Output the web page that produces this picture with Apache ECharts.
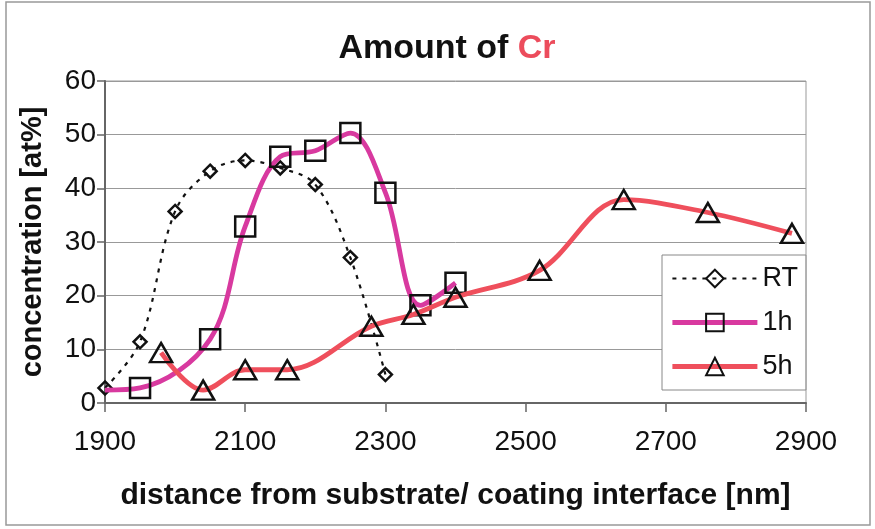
<!DOCTYPE html>
<html><head><meta charset="utf-8">
<script src="https://cdn.jsdelivr.net/npm/echarts@6/dist/echarts.min.js"></script>
<style>html,body{margin:0;padding:0;background:#fff}#c{width:875px;height:529px}</style>
</head><body><div id="c"></div>
<script>
const xTicks = [1900, 2100, 2300, 2500, 2700, 2900];
const yTicks = [0, 10, 20, 30, 40, 50, 60];
const rtX = [1900, 1950, 2000, 2050, 2100, 2150, 2200, 2250, 2300];
const rtY = [2.8, 11.4, 35.7, 43.2, 45.2, 43.8, 40.7, 27.1, 5.3];
const h1X = [1900, 1950, 2050, 2100, 2150, 2200, 2250, 2300, 2350, 2400];
const h1Y = [2.4, 2.8, 11.9, 32.9, 45.9, 47.0, 50.3, 39.2, 18.2, 22.4];
const h1Marker = [false, true, true, true, true, true, true, true, true, true];
const h5X = [1980, 2040, 2100, 2160, 2280, 2340, 2400, 2520, 2640, 2760, 2880];
const h5Y = [9.4, 2.4, 6.2, 6.2, 14.3, 16.5, 19.7, 24.7, 37.9, 35.5, 31.6];
const seriesNames = ['RT', '1h', '5h'];

const chart = echarts.init(document.getElementById('c'));
const pts = (xs, ys) => xs.map((x, i) => [x, ys[i]]);
const h1Data = h1X.map((x, i) => h1Marker[i] ? [x, h1Y[i]] : {value: [x, h1Y[i]], symbol: 'none'});
const markerStyle = {color: 'rgba(0,0,0,0)', borderColor: '#111', borderWidth: 2.5};
const FF = 'Liberation Sans, Arial';

chart.setOption({
  animation: false,
  backgroundColor: '#fff',
  title: {
    text: '{a|Amount of }{b|Cr}',
    left: 442, top: 27, textAlign: 'center',
    textStyle: {
      rich: {
        a: {fontFamily: FF, fontWeight: 'bold', fontSize: 34, color: '#111'},
        b: {fontFamily: FF, fontWeight: 'bold', fontSize: 34, color: '#ec4c5c'}
      }
    }
  },
  graphic: [{
    type: 'rect', shape: {x: 6, y: 2, width: 864, height: 523},
    style: {fill: 'none', stroke: '#999', lineWidth: 1.5}, silent: true, z: -1
  }],
  grid: {left: 105, right: 69, top: 81, bottom: 126, show: true, borderColor: '#999', borderWidth: 1},
  legend: {
    orient: 'vertical', left: 662, top: 255, width: 146,
    padding: [10, 8, 10, 8], itemGap: 17,
    itemWidth: 85, itemHeight: 22,
    backgroundColor: '#fff', borderColor: '#888', borderWidth: 1,
    lineStyle: {width: 'inherit'},
    textStyle: {fontFamily: FF, fontSize: 27, color: '#111'},
    data: seriesNames
  },
  xAxis: {
    type: 'value', min: xTicks[0], max: xTicks[xTicks.length - 1], interval: 200,
    name: 'distance from substrate/ coating interface [nm]',
    nameLocation: 'middle', nameGap: 78,
    nameTextStyle: {fontFamily: FF, fontWeight: 'bold', fontSize: 30, color: '#111'},
    axisLine: {lineStyle: {color: '#666', width: 2}},
    axisTick: {show: true, length: 9, lineStyle: {color: '#666', width: 1.5}},
    axisLabel: {fontFamily: FF, fontSize: 28, color: '#111', margin: 25, formatter: v => String(v)},
    splitLine: {show: false}
  },
  yAxis: {
    type: 'value', min: yTicks[0], max: yTicks[yTicks.length - 1], interval: 10,
    name: 'concentration [at%]',
    nameLocation: 'middle', nameGap: 58,
    nameTextStyle: {fontFamily: FF, fontWeight: 'bold', fontSize: 29, color: '#111'},
    axisLine: {show: true, lineStyle: {color: '#666', width: 2}},
    axisTick: {show: true, length: 8, lineStyle: {color: '#666', width: 1.5}},
    axisLabel: {fontFamily: FF, fontSize: 28, color: '#111', margin: 9},
    splitLine: {lineStyle: {color: '#999', width: 1}}
  },
  series: [
    {
      name: seriesNames[0], type: 'line', data: pts(rtX, rtY), smooth: 0.35,
      symbol: 'diamond', symbolSize: 13,
      lineStyle: {color: '#111', width: 2.2, type: [4, 6]},
      itemStyle: {color: 'rgba(0,0,0,0)', borderColor: '#111', borderWidth: 2.5},
      z: 3
    },
    {
      name: seriesNames[1], type: 'line', data: h1Data, smooth: 0.35,
      symbol: 'rect', symbolSize: 20,
      lineStyle: {color: '#d8399f', width: 4.8},
      itemStyle: markerStyle,
      z: 4
    },
    {
      name: seriesNames[2], type: 'line', data: pts(h5X, h5Y), smooth: 0.35,
      symbol: 'triangle', symbolSize: [22, 19],
      lineStyle: {color: '#ef4f5c', width: 4.8},
      itemStyle: markerStyle,
      z: 5
    }
  ]
});
</script></body></html>
